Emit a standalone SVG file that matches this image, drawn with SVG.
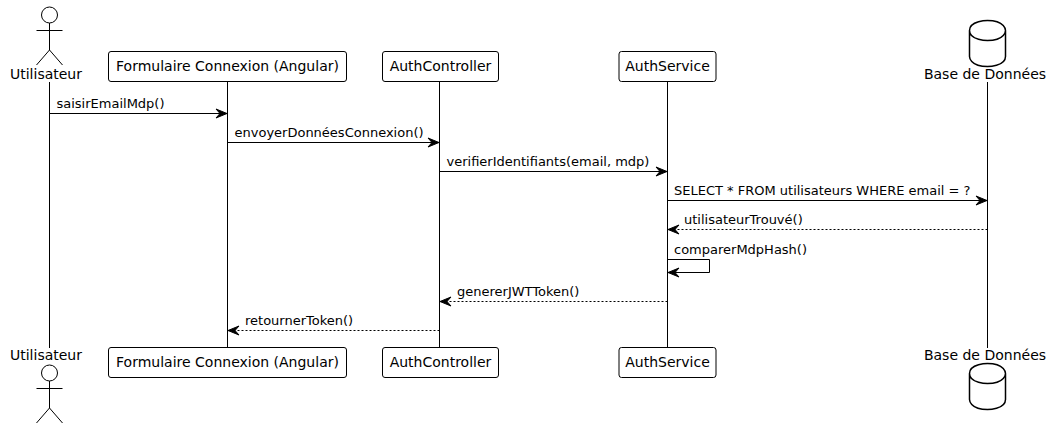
<svg xmlns="http://www.w3.org/2000/svg" width="1051" height="428" viewBox="0 0 1051 428">
<style>
text{font-family:"DejaVu Sans",sans-serif;font-size:13px;fill:#000}
.p{font-size:14px;text-anchor:middle}
.ll{stroke:#000;stroke-width:1;fill:none}
.box{fill:#fff;stroke:#000;stroke-width:1}
.actor{fill:#fff;stroke:#000;stroke-width:1}
.db{fill:#fff;stroke:#000;stroke-width:1.5}
.m{stroke:#000;stroke-width:1;fill:none}
.d{stroke-dasharray:2,2}
</style>
<defs>
<marker id="a" markerUnits="userSpaceOnUse" markerWidth="14" markerHeight="12" refX="13" refY="6" orient="auto"><polygon points="13,6 2,1.5 6,6 2,10.5" fill="#000" stroke="#000"/></marker>
<g id="stick"><circle cx="49.5" cy="15" r="8" class="actor"/><path d="M49.5 23V50M36.5 30.5H62.5M49.5 50L36.5 65M49.5 50L62.5 65" class="actor" fill="none"/></g>
<path id="cyl" d="M0 10C0 0 18 0 18 0C36 0 36 10 36 10V36C36 46 18 46 18 46C0 46 0 36 0 36ZM0 10C0 20 18 20 18 20C36 20 36 10 36 10" class="db"/>
</defs>
<g id="lifelines">
<path class="ll" d="M49.5 82V348M227.5 82V348M439.5 82V348M667.5 82V348M987.5 82V348"/>
</g>
<g id="connectors">
<path class="m" marker-end="url(#a)" d="M49.5 113.5H227"/>
<path class="m" marker-end="url(#a)" d="M227.5 142.5H439"/>
<path class="m" marker-end="url(#a)" d="M439.5 171.5H667"/>
<path class="m" marker-end="url(#a)" d="M667.5 200.5H987"/>
<path class="m d" marker-end="url(#a)" d="M987.5 229.5H668"/>
<path class="m" marker-end="url(#a)" d="M667.5 259.5H709.5V272.5H668"/>
<path class="m d" marker-end="url(#a)" d="M667.5 301.5H440"/>
<path class="m d" marker-end="url(#a)" d="M439.5 330.5H228"/>
<text x="56.5" y="108">saisirEmailMdp()</text>
<text x="234.5" y="137">envoyerDonnéesConnexion()</text>
<text x="446.5" y="166">verifierIdentifiants(email, mdp)</text>
<text x="674" y="195">SELECT * FROM utilisateurs WHERE email = ?</text>
<text x="684" y="224">utilisateurTrouvé()</text>
<text x="674" y="254">comparerMdpHash()</text>
<text x="457" y="296">genererJWTToken()</text>
<text x="245" y="325">retournerToken()</text>
</g>
<g id="utilisateur-top"><use href="#stick"/><text class="p" x="46" y="79">Utilisateur</text></g>
<g id="utilisateur-bottom"><use href="#stick" y="358"/><text class="p" x="46" y="360">Utilisateur</text></g>
<g id="formulaire-top"><rect class="box" x="108.5" y="51.5" width="238" height="30" rx="2.5"/><text class="p" x="227.5" y="71">Formulaire Connexion (Angular)</text></g>
<g id="formulaire-bottom"><rect class="box" x="108.5" y="347.5" width="238" height="30" rx="2.5"/><text class="p" x="227.5" y="367">Formulaire Connexion (Angular)</text></g>
<g id="authcontroller-top"><rect class="box" x="382.5" y="51.5" width="116" height="30" rx="2.5"/><text class="p" x="440.5" y="71">AuthController</text></g>
<g id="authcontroller-bottom"><rect class="box" x="382.5" y="347.5" width="116" height="30" rx="2.5"/><text class="p" x="440.5" y="367">AuthController</text></g>
<g id="authservice-top"><rect class="box" x="619" y="51.5" width="97" height="30" rx="2.5"/><text class="p" x="667.5" y="71">AuthService</text></g>
<g id="authservice-bottom"><rect class="box" x="619" y="347.5" width="97" height="30" rx="2.5"/><text class="p" x="667.5" y="367">AuthService</text></g>
<g id="bdd-top"><use href="#cyl" x="969.5" y="20.5"/><text class="p" x="985" y="79">Base de Données</text></g>
<g id="bdd-bottom"><use href="#cyl" x="969.5" y="363.5"/><text class="p" x="985" y="360">Base de Données</text></g>
</svg>
